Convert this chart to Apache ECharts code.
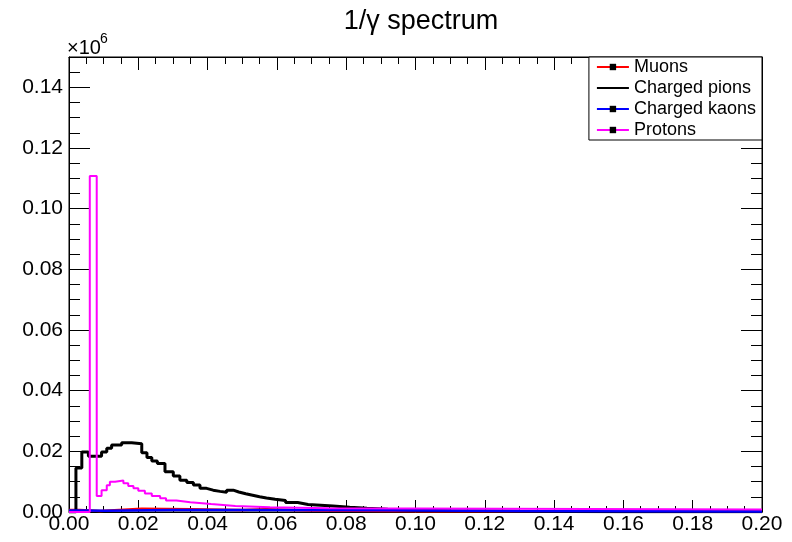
<!DOCTYPE html>
<html>
<head>
<meta charset="utf-8">
<script src="https://cdn.jsdelivr.net/npm/echarts@6/dist/echarts.min.js"></script>
<style>
html, body { margin: 0; padding: 0; background: #fff; }
#main { width: 792px; height: 542px; }
</style>
</head>
<body>
<div id="main"></div>
<script>
var FONT = '"Liberation Sans", Arial, Helvetica, sans-serif';
var xMax = 0.2;
var yMax = 150000;

// histogram steps: left edge of each step and the count from there on
var muonEdges  = [0, 0.003, 0.009, 0.0145, 0.021, 0.035, 0.05, 0.057, 0.07, 0.09, 0.12];
var muonCounts = [700, 300, 700, 1100, 900, 700, 900, 500, 300, 150, 50];

var pionEdges  = [0, 0.002, 0.0037, 0.0056, 0.0094, 0.0109, 0.0123, 0.0152, 0.0181, 0.021,
                  0.0225, 0.0239, 0.0255, 0.0277, 0.0301, 0.032, 0.034, 0.0359, 0.0378, 0.0397,
                  0.0416, 0.0436, 0.0455, 0.0474, 0.049, 0.051, 0.053, 0.055, 0.057, 0.0595,
                  0.0625, 0.066, 0.069, 0.0762, 0.081, 0.086, 0.092, 0.1, 0.11, 0.13, 0.16];
var pionCounts = [0, 14500, 19800, 18400, 19800, 21000, 22100, 22800, 22500, 19500,
                  18000, 16800, 16000, 13300, 11900, 10500, 9700, 8900, 7800, 7200,
                  6800, 6500, 7200, 6600, 6000, 5500, 5000, 4600, 4200, 3800,
                  3100, 2500, 2000, 1600, 1200, 900, 600, 400, 250, 120, 60];

var kaonEdges  = [0, 0.005, 0.01, 0.03, 0.06, 0.09, 0.13];
var kaonCounts = [500, 400, 650, 700, 550, 300, 150];

var protonEdges  = [0, 0.006, 0.008, 0.0094, 0.0109, 0.0118, 0.0133, 0.0157, 0.0171, 0.0186,
                    0.02, 0.0219, 0.0239, 0.0263, 0.028, 0.031, 0.035, 0.041, 0.048, 0.058, 0.075];
var protonCounts = [0, 110800, 5300, 7200, 8800, 10000, 10400, 9500, 8600, 7800,
                    7000, 6100, 5300, 4500, 3800, 3200, 2600, 2000, 1600, 1200, 850];

var names  = ['Muons', 'Charged pions', 'Charged kaons', 'Protons'];
var colors = ['#ff0000', '#000000', '#0000ff', '#ff00ff'];

function steps(edges, counts) {
    var d = edges.map(function (e, i) { return [e, counts[i]]; });
    d.push([xMax, counts[counts.length - 1]]);
    return d;
}

var gridPos = { left: 69, right: 30, top: 57, bottom: 30 };
var black = { color: '#000', width: 1 };

function hist(i, edges, counts, width) {
    return {
        name: names[i],
        type: 'line',
        step: 'end',
        symbol: 'rect',
        showSymbol: false,
        xAxisIndex: 0,
        yAxisIndex: 0,
        itemStyle: { color: colors[i] },
        lineStyle: { color: colors[i], width: width },
        data: steps(edges, counts)
    };
}

var myChart = echarts.init(document.getElementById('main'));

var option = {
    animation: false,
    backgroundColor: '#fff',
    textStyle: { fontFamily: FONT },
    title: {
        text: '1/\u03b3 spectrum',
        left: 416,
        top: 3,
        textAlign: 'center',
        textStyle: { fontFamily: FONT, fontSize: 27, fontWeight: 'normal', color: '#000' }
    },
    graphic: [
        { type: 'text', left: 67, top: 38, style: { text: '\u00d710', font: '20px ' + FONT, fill: '#000' } },
        { type: 'text', left: 100, top: 32, style: { text: '6', font: '14px ' + FONT, fill: '#000' } }
    ],
    legend: {
        orient: 'vertical',
        right: 30,
        top: 57,
        padding: [1, 6, 1, 7],
        itemGap: 3,
        itemWidth: 32,
        itemHeight: 8,
        backgroundColor: '#fff',
        borderColor: '#000',
        borderWidth: 1,
        borderRadius: 0,
        textStyle: { fontFamily: FONT, fontSize: 18, color: '#000' },
        data: [
            { name: names[0], itemStyle: { color: '#000' } },
            { name: names[1], itemStyle: { color: '#000', opacity: 0 } },
            { name: names[2], itemStyle: { color: '#000' } },
            { name: names[3], itemStyle: { color: '#000' } }
        ]
    },
    grid: [
        Object.assign({ show: true, borderColor: '#000', borderWidth: 1, backgroundColor: 'transparent' }, gridPos),
        Object.assign({ show: false }, gridPos)
    ],
    xAxis: [
        {
            type: 'value', gridIndex: 0, position: 'bottom', min: 0, max: xMax, interval: 0.02,
            axisLine: { onZero: false, lineStyle: black },
            axisTick: { inside: true, length: 12, lineStyle: black },
            minorTick: { show: true, splitNumber: 4, length: 6, lineStyle: black },
            splitLine: { show: false },
            axisLabel: {
                margin: 2, fontSize: 21, color: '#000', fontFamily: FONT,
                formatter: function (v) { return v.toFixed(2); }
            }
        },
        {
            type: 'value', gridIndex: 0, position: 'top', min: 0, max: xMax, interval: 0.02,
            axisLine: { onZero: false, lineStyle: black },
            axisTick: { inside: true, length: 13, lineStyle: black },
            minorTick: { show: true, splitNumber: 4, length: 7, lineStyle: black },
            splitLine: { show: false },
            axisLabel: { show: false }
        },
        {
            type: 'value', gridIndex: 1, min: 0, max: xMax, show: false
        }
    ],
    yAxis: [
        {
            type: 'value', gridIndex: 0, position: 'left', min: 0, max: yMax, interval: 20000,
            axisLine: { show: true, onZero: false, lineStyle: black },
            axisTick: { inside: true, length: 21, lineStyle: black },
            splitLine: { show: false },
            axisLabel: {
                margin: 6, fontSize: 21, color: '#000', fontFamily: FONT, showMaxLabel: false,
                formatter: function (v) { return v >= yMax ? '' : (v / 1e6).toFixed(2); }
            }
        },
        {
            type: 'value', gridIndex: 0, position: 'right', min: 0, max: yMax, interval: 20000,
            axisLine: { show: true, onZero: false, lineStyle: black },
            axisTick: { inside: true, length: 21, lineStyle: black },
            splitLine: { show: false },
            axisLabel: { show: false }
        },
        {
            type: 'value', gridIndex: 1, position: 'left', min: 0, max: yMax, interval: 5000,
            axisLine: { show: false, onZero: false },
            axisTick: { inside: true, length: 11, lineStyle: black },
            splitLine: { show: false },
            axisLabel: { show: false }
        },
        {
            type: 'value', gridIndex: 1, position: 'right', min: 0, max: yMax, interval: 5000,
            axisLine: { show: false, onZero: false },
            axisTick: { inside: true, length: 11, lineStyle: black },
            splitLine: { show: false },
            axisLabel: { show: false }
        }
    ],
    series: [
        hist(0, muonEdges, muonCounts, 2.5),
        hist(1, pionEdges, pionCounts, 3),
        hist(2, kaonEdges, kaonCounts, 2.5),
        hist(3, protonEdges, protonCounts, 2)
    ]
};

myChart.setOption(option);
</script>
</body>
</html>
